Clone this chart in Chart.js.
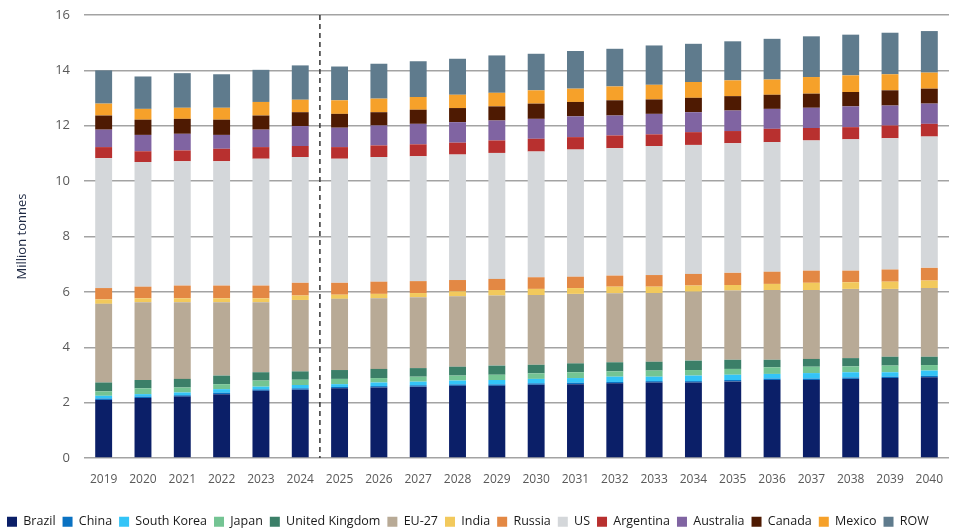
<!DOCTYPE html>
<html>
<head>
<meta charset="utf-8">
<script src="https://cdn.jsdelivr.net/npm/chart.js@4"></script>
<style>
html,body{margin:0;padding:0;background:#fff;}
#wrap{width:959px;height:530px;position:relative;}
</style>
</head>
<body>
<div id="wrap"><canvas id="c" width="959" height="530"></canvas></div>
<script>
const years = ['2019','2020','2021','2022','2023','2024','2025','2026','2027','2028','2029','2030','2031','2032','2033','2034','2035','2036','2037','2038','2039','2040'];
const yTicks = [0,2,4,6,8,10,12,14,16];

const brazil      = [2.10,2.17,2.22,2.31,2.43,2.47,2.52,2.55,2.58,2.61,2.61,2.65,2.67,2.70,2.73,2.73,2.77,2.82,2.82,2.86,2.89,2.92];
const china       = [0.05,0.05,0.05,0.05,0.05,0.05,0.05,0.05,0.05,0.05,0.05,0.05,0.05,0.05,0.05,0.05,0.05,0.05,0.05,0.05,0.05,0.05];
const southKorea  = [0.10,0.09,0.10,0.13,0.10,0.12,0.10,0.13,0.13,0.14,0.16,0.16,0.17,0.19,0.16,0.20,0.19,0.17,0.20,0.19,0.16,0.19];
const japan       = [0.16,0.21,0.18,0.18,0.22,0.19,0.19,0.16,0.18,0.18,0.19,0.20,0.21,0.19,0.22,0.20,0.21,0.24,0.23,0.21,0.24,0.20];
const uk          = [0.32,0.30,0.31,0.31,0.30,0.30,0.32,0.33,0.31,0.32,0.33,0.31,0.32,0.33,0.32,0.34,0.33,0.27,0.28,0.30,0.32,0.30];
const eu27        = [2.84,2.81,2.77,2.65,2.53,2.58,2.57,2.55,2.56,2.54,2.53,2.52,2.51,2.49,2.48,2.49,2.50,2.52,2.49,2.50,2.45,2.48];
const india       = [0.16,0.14,0.14,0.14,0.14,0.16,0.15,0.16,0.15,0.18,0.20,0.22,0.21,0.24,0.23,0.22,0.20,0.22,0.26,0.24,0.26,0.27];
const russia      = [0.41,0.42,0.46,0.46,0.46,0.46,0.43,0.44,0.43,0.41,0.40,0.42,0.41,0.40,0.42,0.42,0.44,0.44,0.44,0.42,0.44,0.46];
const us          = [4.69,4.50,4.49,4.49,4.58,4.54,4.48,4.50,4.51,4.53,4.55,4.54,4.59,4.60,4.66,4.66,4.68,4.68,4.70,4.74,4.74,4.74];
const argentina   = [0.40,0.39,0.39,0.45,0.42,0.40,0.42,0.42,0.43,0.43,0.45,0.46,0.45,0.46,0.42,0.46,0.44,0.48,0.45,0.44,0.46,0.46];
const australia   = [0.63,0.59,0.60,0.50,0.63,0.72,0.70,0.72,0.74,0.74,0.72,0.72,0.75,0.72,0.74,0.72,0.74,0.72,0.73,0.75,0.72,0.73];
const canada      = [0.51,0.55,0.54,0.55,0.51,0.50,0.50,0.48,0.51,0.51,0.51,0.55,0.52,0.55,0.52,0.52,0.52,0.51,0.51,0.52,0.55,0.54];
const mexico      = [0.43,0.39,0.40,0.43,0.49,0.45,0.49,0.49,0.46,0.48,0.49,0.48,0.48,0.50,0.53,0.57,0.57,0.55,0.60,0.60,0.58,0.58];
const row         = [1.20,1.17,1.25,1.21,1.16,1.24,1.22,1.26,1.29,1.30,1.35,1.32,1.36,1.36,1.42,1.38,1.41,1.47,1.47,1.47,1.50,1.50];

const seriesNames = ['Brazil','China','South Korea','Japan','United Kingdom','EU-27','India','Russia','US','Argentina','Australia','Canada','Mexico','ROW'];
const seriesData  = [brazil,china,southKorea,japan,uk,eu27,india,russia,us,argentina,australia,canada,mexico,row];
const seriesColors = ['#0b1f68','#0a72c2','#33c4f7','#74c493','#3b7f68','#b8aa96','#f2c95c','#e38844','#d4d7da','#b8302f','#8064a2','#4e1a02','#f6a12a','#5f7b8d'];

const dashedDivider = {
  id:'dashedDivider',
  afterDatasetsDraw(chart){
    const x = chart.scales.x;
    const px = (x.getPixelForValue(5) + x.getPixelForValue(6)) / 2;
    const ctx = chart.ctx, a = chart.chartArea;
    ctx.save();
    ctx.strokeStyle = '#333';
    ctx.lineWidth = 1.5;
    ctx.setLineDash([5,4]);
    ctx.beginPath();
    ctx.moveTo(px, a.top);
    ctx.lineTo(px, a.bottom);
    ctx.stroke();
    ctx.restore();
  }
};

const legendShift = {
  id:'legendShift',
  afterLayout(chart){
    const l = chart.legend;
    if (l) { l.top += 16; l.bottom += 16; }
  }
};

new Chart(document.getElementById('c'), {
  type:'bar',
  data:{
    labels: years,
    datasets: seriesNames.map((n,i)=>({
      label:n, data:seriesData[i], backgroundColor:seriesColors[i],
      borderWidth:0, categoryPercentage:1.0, barPercentage:0.43
    }))
  },
  options:{
    responsive:false,
    animation:false,
    layout:{padding:{left:0,right:10,top:0,bottom:8}},
    plugins:{
      legend:{
        position:'bottom',
        align:'start',
        labels:{
          boxWidth:10, boxHeight:10, padding:7,
          color:'#1a1a1a',
          font:{family:'Open Sans', size:12.5}
        }
      },
      tooltip:{enabled:false}
    },
    scales:{
      x:{
        stacked:true,
        grid:{display:false},
        border:{display:false},
        ticks:{color:'#595959', font:{family:'Open Sans', size:12}, maxRotation:0, padding:6}
      },
      y:{
        stacked:true,
        min:0, max:16,
        afterBuildTicks(s){ s.ticks = yTicks.map(v=>({value:v})); },
        afterFit(s){ s.width = 84; s.paddingTop = 15; },
        grid:{color:'#a3a3a3', lineWidth:1.5, drawTicks:false},
        border:{display:false},
        ticks:{color:'#595959', font:{family:'Open Sans', size:13}, padding:14},
        title:{display:true, text:'Million tonnes', color:'#1f2a44', font:{family:'Open Sans', size:13}, padding:{top:14,bottom:4}}
      }
    }
  },
  plugins:[dashedDivider, legendShift]
});
</script>
</body>
</html>
